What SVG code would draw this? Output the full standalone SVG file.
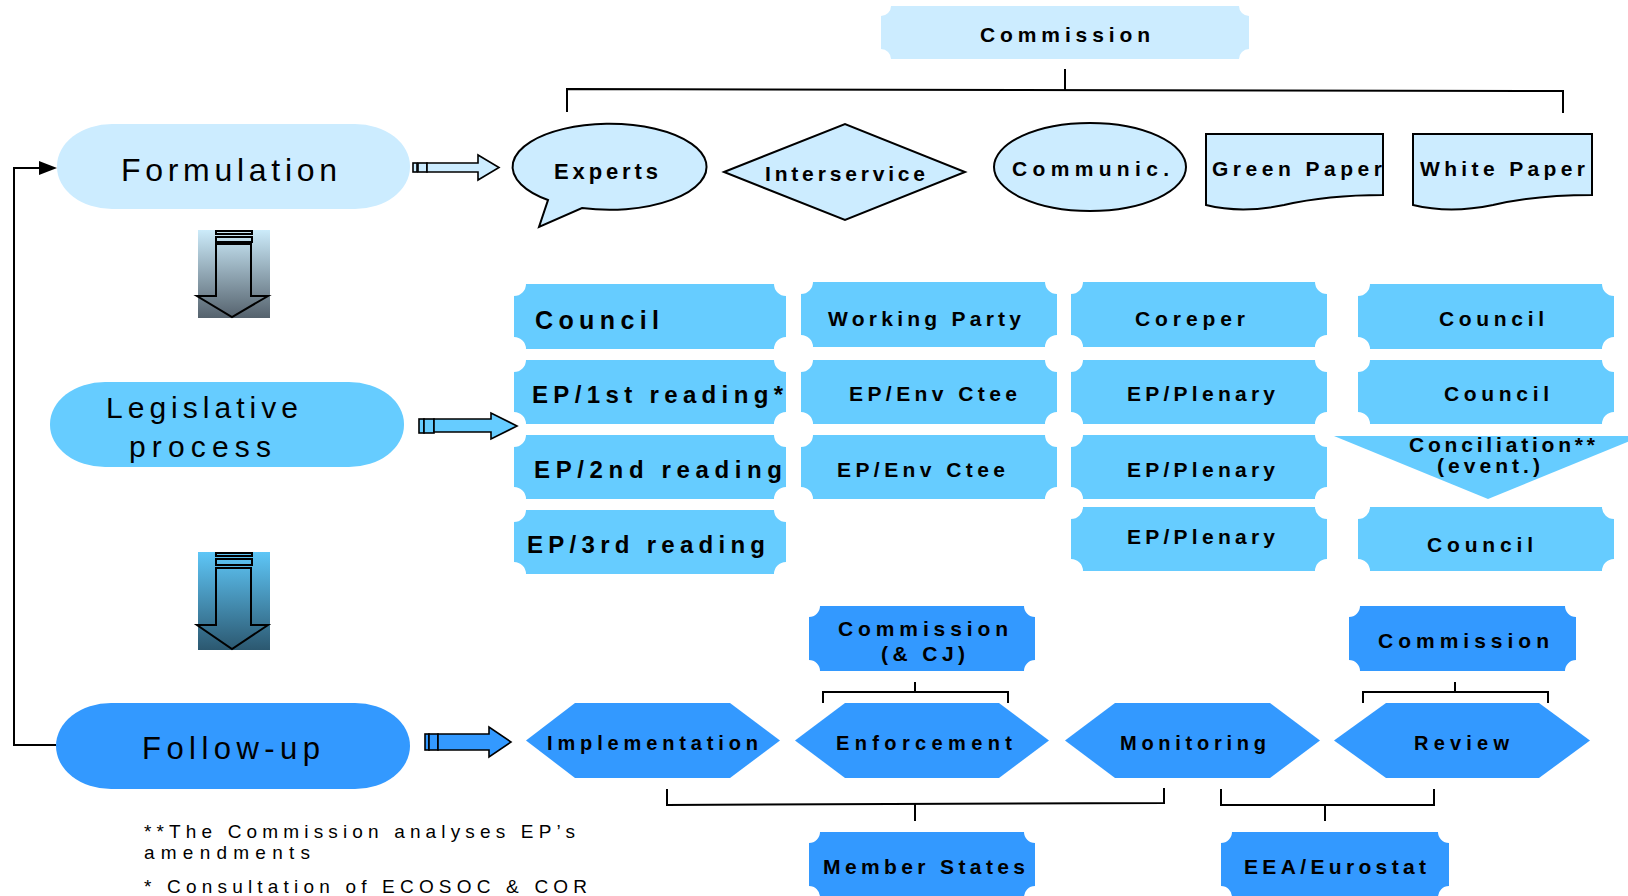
<svg xmlns="http://www.w3.org/2000/svg" width="1628" height="896" viewBox="0 0 1628 896">
<style>
text{font-family:"Liberation Sans",Arial,sans-serif;fill:#000}
.b{font-weight:bold}
.light{fill:#CCECFF}
.mid{fill:#66CCFF}
.dark{fill:#3399FF}
.out{stroke:#000;stroke-width:2}
.ln{fill:none;stroke:#000;stroke-width:2}
.arr{stroke:#000;stroke-width:1.6}
.da{fill:none;stroke:#000;stroke-width:2}
</style>
<defs>
<linearGradient id="g1" x1="0" y1="0" x2="0" y2="1"><stop offset="0" stop-color="#CCEBFA"/><stop offset="1" stop-color="#55626D"/></linearGradient>
<linearGradient id="g2" x1="0" y1="0" x2="0" y2="1"><stop offset="0" stop-color="#5EC6F7"/><stop offset="1" stop-color="#2C5870"/></linearGradient>
</defs>
<rect width="1628" height="896" fill="#fff"/>

<g id="connectors">
<line class="ln" x1="1065" y1="69" x2="1065" y2="90"/>
<polyline class="ln" points="567,112 567,89 1563,91 1563,113"/>
<polyline class="ln" points="56,745 14,745 14,168 42,168"/>
<polygon points="39,161 57,168 39,175" fill="#000"/>
<line class="ln" x1="915" y1="682" x2="915" y2="692"/>
<polyline class="ln" points="823,703 823,692 1008,692 1008,703"/>
<line class="ln" x1="1455" y1="682" x2="1455" y2="692"/>
<polyline class="ln" points="1363,703 1363,692 1548,692 1548,703"/>
<polyline class="ln" points="667,789 667,805 1164,803 1164,788"/>
<line class="ln" x1="915" y1="804" x2="915" y2="821"/>
<polyline class="ln" points="1221,789 1221,805 1434,805 1434,789"/>
<line class="ln" x1="1325" y1="805" x2="1325" y2="821"/>
<g id="arrow-formulation">
<rect class="light arr" x="413" y="163" width="4" height="9"/>
<rect class="light arr" x="418" y="163" width="9" height="9"/>
<polygon class="light arr" points="427,163 478,163 478,155 499,167.5 478,180 478,172 427,172"/>
</g>
<g id="arrow-legislative">
<rect class="mid arr" x="419" y="419" width="5" height="14"/>
<rect class="mid arr" x="424" y="419" width="10" height="14"/>
<polygon class="mid arr" points="434,419 491,419 491,413 517,426 491,439 491,432 434,432"/>
</g>
<g id="arrow-followup">
<rect class="dark arr" x="425" y="734" width="4" height="16"/>
<rect class="dark arr" x="429" y="734" width="9" height="16"/>
<polygon class="dark arr" points="438,734 489,734 489,727 511,742 489,757 489,750 438,750"/>
</g>
<g id="down-arrow-1">
<rect x="198" y="230" width="72" height="88" fill="url(#g1)"/>
<rect class="da" x="216" y="231" width="36" height="3"/>
<rect class="da" x="216" y="237" width="36" height="5"/>
<polygon class="da" points="216,244 251,244 251,296 268,296 232,317 197,296 216,296"/>
</g>
<g id="down-arrow-2">
<rect x="198" y="552" width="72" height="98" fill="url(#g2)"/>
<rect class="da" x="216" y="553" width="36" height="3"/>
<rect class="da" x="216" y="559" width="36" height="6"/>
<polygon class="da" points="216,568 251,568 251,625 268,625 232,649 197,625 216,625"/>
</g>
</g>

<g id="commission-top">
<path class="light" d="M891,6 H1239 A10,10 0 0 0 1249,16 V49 A10,10 0 0 0 1239,59 H891 A10,10 0 0 0 881,49 V16 A10,10 0 0 0 891,6 Z"/>
<text class="b" x="980" y="42" font-size="21" textLength="170" lengthAdjust="spacing">Commission</text>
</g>

<g id="formulation">
<rect class="light" x="57" y="124" width="353" height="85" rx="55" ry="42"/>
<text x="121" y="181" font-size="32" textLength="216" lengthAdjust="spacing">Formulation</text>
</g>
<g id="legislative">
<rect class="mid" x="50" y="382" width="354" height="85" rx="55" ry="42"/>
<text x="106" y="418" font-size="30" textLength="192" lengthAdjust="spacing">Legislative</text>
<text x="129" y="457" font-size="30" textLength="142" lengthAdjust="spacing">process</text>
</g>
<g id="followup">
<rect class="dark" x="56" y="703" width="354" height="86" rx="55" ry="43"/>
<text x="142" y="759" font-size="31" textLength="178" lengthAdjust="spacing">Follow-up</text>
</g>

<g id="experts">
<path class="light out" d="M548,200 A97,43 0 1 1 582,208 L539,227 Z"/>
<text class="b" x="554" y="179" font-size="22" textLength="104" lengthAdjust="spacing">Experts</text>
</g>
<g id="interservice">
<polygon class="light out" points="724,172 845,124 965,172 845,220"/>
<text class="b" x="765" y="181" font-size="21" textLength="160" lengthAdjust="spacing">Interservice</text>
</g>
<g id="communic">
<ellipse class="light out" cx="1090" cy="167" rx="96" ry="44"/>
<text class="b" x="1012" y="176" font-size="21" textLength="157" lengthAdjust="spacing">Communic.</text>
</g>
<g id="green-paper">
<path class="light out" d="M1206,134 H1383 V195 C1340,195 1310,199 1284,205 C1255,211 1230,211 1206,205 Z"/>
<text class="b" x="1212" y="176" font-size="21" textLength="170" lengthAdjust="spacing">Green Paper</text>
</g>
<g id="white-paper">
<path class="light out" d="M1413,134 H1592 V195 C1549,195 1519,199 1493,205 C1464,211 1438,211 1413,205 Z"/>
<text class="b" x="1420" y="176" font-size="21" textLength="165" lengthAdjust="spacing">White Paper</text>
</g>

<g id="council-1">
<path class="mid" d="M526,284 H774 A12,12 0 0 0 786,296 V337 A12,12 0 0 0 774,349 H526 A12,12 0 0 0 514,337 V296 A12,12 0 0 0 526,284 Z"/>
<text class="b" x="535" y="329" font-size="25" textLength="124" lengthAdjust="spacing">Council</text>
</g>
<g id="ep-1st">
<path class="mid" d="M526,360 H774 A12,12 0 0 0 786,372 V412 A12,12 0 0 0 774,424 H526 A12,12 0 0 0 514,412 V372 A12,12 0 0 0 526,360 Z"/>
<text class="b" x="532" y="403" font-size="24" textLength="251" lengthAdjust="spacing">EP/1st reading*</text>
</g>
<g id="ep-2nd">
<path class="mid" d="M526,435 H774 A12,12 0 0 0 786,447 V487 A12,12 0 0 0 774,499 H526 A12,12 0 0 0 514,487 V447 A12,12 0 0 0 526,435 Z"/>
<text class="b" x="534" y="478" font-size="24" textLength="248" lengthAdjust="spacing">EP/2nd reading</text>
</g>
<g id="ep-3rd">
<path class="mid" d="M526,510 H774 A12,12 0 0 0 786,522 V562 A12,12 0 0 0 774,574 H526 A12,12 0 0 0 514,562 V522 A12,12 0 0 0 526,510 Z"/>
<text class="b" x="527" y="553" font-size="24" textLength="238" lengthAdjust="spacing">EP/3rd reading</text>
</g>

<g id="working-party">
<path class="mid" d="M813,282 H1045 A12,12 0 0 0 1057,294 V335 A12,12 0 0 0 1045,347 H813 A12,12 0 0 0 801,335 V294 A12,12 0 0 0 813,282 Z"/>
<text class="b" x="828" y="326" font-size="21" textLength="193" lengthAdjust="spacing">Working Party</text>
</g>
<g id="ep-env-1">
<path class="mid" d="M813,360 H1045 A12,12 0 0 0 1057,372 V412 A12,12 0 0 0 1045,424 H813 A12,12 0 0 0 801,412 V372 A12,12 0 0 0 813,360 Z"/>
<text class="b" x="849" y="401" font-size="21" textLength="168" lengthAdjust="spacing">EP/Env Ctee</text>
</g>
<g id="ep-env-2">
<path class="mid" d="M813,435 H1045 A12,12 0 0 0 1057,447 V487 A12,12 0 0 0 1045,499 H813 A12,12 0 0 0 801,487 V447 A12,12 0 0 0 813,435 Z"/>
<text class="b" x="837" y="477" font-size="21" textLength="168" lengthAdjust="spacing">EP/Env Ctee</text>
</g>

<g id="coreper">
<path class="mid" d="M1083,282 H1315 A12,12 0 0 0 1327,294 V335 A12,12 0 0 0 1315,347 H1083 A12,12 0 0 0 1071,335 V294 A12,12 0 0 0 1083,282 Z"/>
<text class="b" x="1135" y="326" font-size="21" textLength="110" lengthAdjust="spacing">Coreper</text>
</g>
<g id="ep-plenary-1">
<path class="mid" d="M1083,360 H1315 A12,12 0 0 0 1327,372 V412 A12,12 0 0 0 1315,424 H1083 A12,12 0 0 0 1071,412 V372 A12,12 0 0 0 1083,360 Z"/>
<text class="b" x="1127" y="401" font-size="21" textLength="148" lengthAdjust="spacing">EP/Plenary</text>
</g>
<g id="ep-plenary-2">
<path class="mid" d="M1083,435 H1315 A12,12 0 0 0 1327,447 V487 A12,12 0 0 0 1315,499 H1083 A12,12 0 0 0 1071,487 V447 A12,12 0 0 0 1083,435 Z"/>
<text class="b" x="1127" y="477" font-size="21" textLength="148" lengthAdjust="spacing">EP/Plenary</text>
</g>
<g id="ep-plenary-3">
<path class="mid" d="M1083,507 H1315 A12,12 0 0 0 1327,519 V559 A12,12 0 0 0 1315,571 H1083 A12,12 0 0 0 1071,559 V519 A12,12 0 0 0 1083,507 Z"/>
<text class="b" x="1127" y="544" font-size="21" textLength="148" lengthAdjust="spacing">EP/Plenary</text>
</g>

<g id="council-2">
<path class="mid" d="M1370,284 H1602 A12,12 0 0 0 1614,296 V337 A12,12 0 0 0 1602,349 H1370 A12,12 0 0 0 1358,337 V296 A12,12 0 0 0 1370,284 Z"/>
<text class="b" x="1439" y="326" font-size="21" textLength="105" lengthAdjust="spacing">Council</text>
</g>
<g id="council-3">
<path class="mid" d="M1370,360 H1602 A12,12 0 0 0 1614,372 V412 A12,12 0 0 0 1602,424 H1370 A12,12 0 0 0 1358,412 V372 A12,12 0 0 0 1370,360 Z"/>
<text class="b" x="1444" y="401" font-size="21" textLength="105" lengthAdjust="spacing">Council</text>
</g>
<g id="conciliation">
<polygon class="mid" points="1334,436 1642,436 1488,499"/>
<text class="b" x="1409" y="452" font-size="21" textLength="186" lengthAdjust="spacing">Conciliation**</text>
<text class="b" x="1437" y="473" font-size="21" textLength="103" lengthAdjust="spacing">(event.)</text>
</g>
<g id="council-4">
<path class="mid" d="M1370,507 H1602 A12,12 0 0 0 1614,519 V559 A12,12 0 0 0 1602,571 H1370 A12,12 0 0 0 1358,559 V519 A12,12 0 0 0 1370,507 Z"/>
<text class="b" x="1427" y="552" font-size="21" textLength="106" lengthAdjust="spacing">Council</text>
</g>

<g id="commission-cj">
<path class="dark" d="M820,606 H1024 A11,11 0 0 0 1035,617 V660 A11,11 0 0 0 1024,671 H820 A11,11 0 0 0 809,660 V617 A11,11 0 0 0 820,606 Z"/>
<text class="b" x="838" y="636" font-size="21" textLength="170" lengthAdjust="spacing">Commission</text>
<text class="b" x="881" y="661" font-size="21" textLength="84" lengthAdjust="spacing">(&amp; CJ)</text>
</g>
<g id="commission-right">
<path class="dark" d="M1360,606 H1565 A11,11 0 0 0 1576,617 V660 A11,11 0 0 0 1565,671 H1360 A11,11 0 0 0 1349,660 V617 A11,11 0 0 0 1360,606 Z"/>
<text class="b" x="1378" y="648" font-size="21" textLength="171" lengthAdjust="spacing">Commission</text>
</g>

<g id="implementation">
<polygon class="dark" points="526,740.5 575,703 730,703 780,740.5 730,778 575,778"/>
<text class="b" x="547" y="750" font-size="20" textLength="211" lengthAdjust="spacing">Implementation</text>
</g>
<g id="enforcement">
<polygon class="dark" points="795,740.5 845,703 999,703 1049,740.5 999,778 845,778"/>
<text class="b" x="836" y="750" font-size="20" textLength="176" lengthAdjust="spacing">Enforcement</text>
</g>
<g id="monitoring">
<polygon class="dark" points="1065,740.5 1115,703 1270,703 1320,740.5 1270,778 1115,778"/>
<text class="b" x="1120" y="750" font-size="20" textLength="146" lengthAdjust="spacing">Monitoring</text>
</g>
<g id="review">
<polygon class="dark" points="1334,740.5 1386,703 1539,703 1590,740.5 1539,778 1386,778"/>
<text class="b" x="1414" y="750" font-size="20" textLength="95" lengthAdjust="spacing">Review</text>
</g>

<g id="member-states">
<path class="dark" d="M820,832 H1024 A11,11 0 0 0 1035,843 V886 A11,11 0 0 0 1024,897 H820 A11,11 0 0 0 809,886 V843 A11,11 0 0 0 820,832 Z"/>
<text class="b" x="823" y="874" font-size="21" textLength="202" lengthAdjust="spacing">Member States</text>
</g>
<g id="eea-eurostat">
<path class="dark" d="M1232,832 H1438 A11,11 0 0 0 1449,843 V886 A11,11 0 0 0 1438,897 H1232 A11,11 0 0 0 1221,886 V843 A11,11 0 0 0 1232,832 Z"/>
<text class="b" x="1244" y="874" font-size="21" textLength="182" lengthAdjust="spacing">EEA/Eurostat</text>
</g>

<g id="footnotes">
<text x="144" y="838" font-size="19" textLength="431" lengthAdjust="spacing">**The Commission analyses EP’s</text>
<text x="144" y="859" font-size="19" textLength="166" lengthAdjust="spacing">amendments</text>
<text x="144" y="893" font-size="19" textLength="443" lengthAdjust="spacing">* Consultation of ECOSOC &amp; COR</text>
</g>
</svg>
